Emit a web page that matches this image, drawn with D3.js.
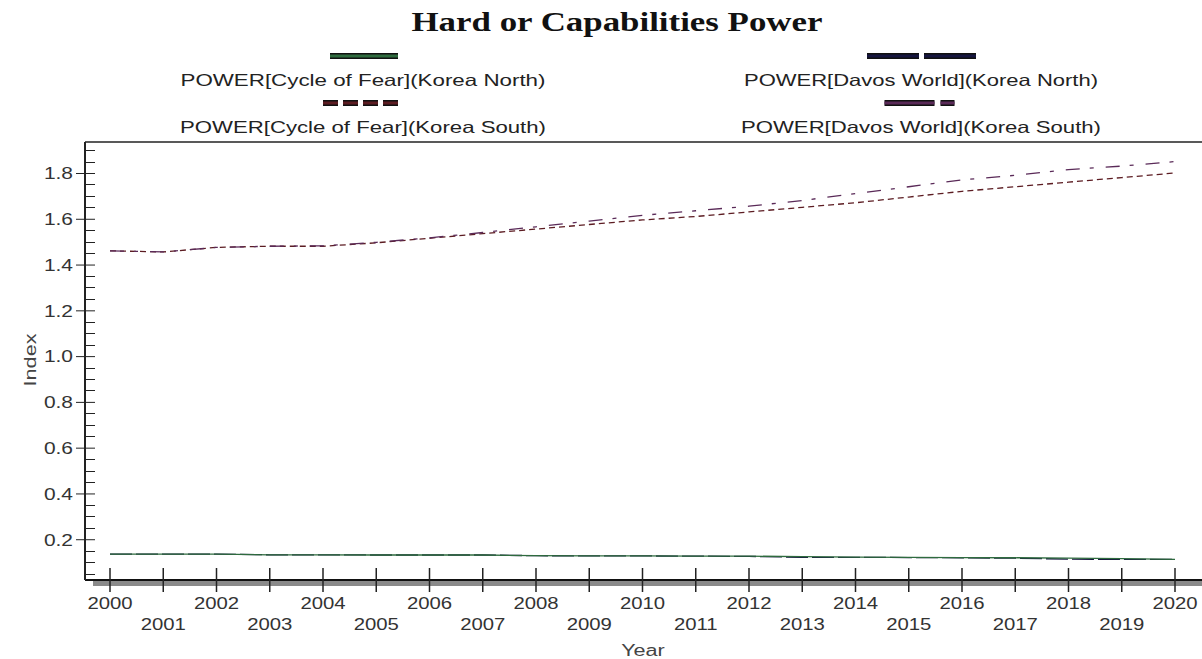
<!DOCTYPE html>
<html>
<head>
<meta charset="utf-8">
<script src="https://cdn.jsdelivr.net/npm/d3@7"></script>
<style>
  body { margin: 0; background: #fff; }
  svg text { font-family: "Liberation Sans", Arial, sans-serif; fill: #222; }
</style>
</head>
<body>
<svg id="chart" width="1202" height="659"></svg>
<script>
const years = d3.range(2000, 2021);

const cofNorth   = [0.135,0.135,0.135,0.132,0.132,0.131,0.131,0.131,0.128,0.127,0.127,0.126,0.126,0.124,0.122,0.121,0.120,0.119,0.117,0.115,0.112];
const davosNorth = [0.135,0.135,0.135,0.132,0.132,0.131,0.131,0.131,0.128,0.127,0.127,0.126,0.125,0.121,0.121,0.120,0.119,0.117,0.113,0.112,0.112];
const cofSouth   = [1.46,1.455,1.475,1.48,1.48,1.495,1.515,1.535,1.555,1.575,1.595,1.61,1.63,1.65,1.67,1.695,1.72,1.74,1.76,1.78,1.80];
const davosSouth = [1.46,1.455,1.475,1.48,1.482,1.497,1.517,1.54,1.565,1.59,1.615,1.635,1.655,1.68,1.71,1.74,1.77,1.79,1.815,1.83,1.85];

const yTicks = [0.2,0.4,0.6,0.8,1.0,1.2,1.4,1.6,1.8];

const series = [
  { name: "POWER[Cycle of Fear](Korea North)", values: cofNorth,   color: "#2e6b3e", dash: null,          lx: 363, ly: 56, tw: 365 },
  { name: "POWER[Davos World](Korea North)",   values: davosNorth, color: "#15153f", dash: "22,4",        lx: 921, ly: 56, tw: 354 },
  { name: "POWER[Cycle of Fear](Korea South)", values: cofSouth,   color: "#5c1c22", dash: "6,4",         lx: 363, ly: 103, tw: 366 },
  { name: "POWER[Davos World](Korea South)",   values: davosSouth, color: "#5a2a58", dash: "14,10,4,12",  lx: 921, ly: 103, tw: 360 }
];
const legendDash = ["68", "52,5", "15,5", "50,6,14,5"];
const legendW = [68, 110, 80, 73];
const legendX = [364, 922, 363, 921];

const svg = d3.select("#chart");
const pLeft = 85, pTop = 142, pBottom = 580, pRight = 1202;
const stretch = 1.27; // reference text is wider than the installed fonts

const x = d3.scaleLinear().domain([2000, 2020]).range([110, 1175]);
const y = d3.scaleLinear().domain([0, 1.8]).range([585, 173]);

function widen(sel, k) {
  sel.attr("lengthAdjust", "spacingAndGlyphs")
     .attr("textLength", function () { return this.getComputedTextLength() * k; });
}

// title
svg.append("text")
  .attr("x", 617).attr("y", 31)
  .attr("text-anchor", "middle")
  .style("font-family", "'Liberation Serif', 'Times New Roman', serif")
  .style("font-weight", "bold")
  .style("font-size", "27px")
  .style("fill", "#111")
  .text("Hard or Capabilities Power")
  .attr("lengthAdjust", "spacingAndGlyphs")
  .attr("textLength", 411);

// legend
series.forEach((s, i) => {
  const ww = legendW[i], cx = legendX[i];
  const g = svg.append("g");
  g.append("line")
    .attr("x1", cx - ww / 2).attr("x2", cx + ww / 2)
    .attr("y1", s.ly).attr("y2", s.ly)
    .attr("stroke", "#111").attr("stroke-width", 6)
    .attr("stroke-dasharray", legendDash[i]);
  g.append("line")
    .attr("x1", cx - ww / 2).attr("x2", cx + ww / 2)
    .attr("y1", s.ly).attr("y2", s.ly)
    .attr("stroke", s.color).attr("stroke-width", 3)
    .attr("stroke-dasharray", legendDash[i]);
  g.append("text")
    .attr("x", s.lx).attr("y", s.ly + 30)
    .attr("text-anchor", "middle")
    .style("font-size", "16.5px")
    .text(s.name)
    .attr("lengthAdjust", "spacingAndGlyphs")
    .attr("textLength", s.tw);
});

// top border
svg.append("line").attr("x1", pLeft).attr("x2", pRight).attr("y1", pTop).attr("y2", pTop)
  .attr("stroke", "#222").attr("stroke-width", 1.5);

// shadow band under x-axis
svg.append("rect").attr("x", 93).attr("y", pBottom).attr("width", pRight - 93).attr("height", 6)
  .attr("fill", "#8a8a8a");
svg.append("line").attr("x1", pLeft).attr("x2", pRight).attr("y1", pBottom).attr("y2", pBottom)
  .attr("stroke", "#111").attr("stroke-width", 2);

// y axis
const yAxis = d3.axisLeft(y)
  .tickValues(yTicks)
  .tickFormat(d3.format(".1f"))
  .tickSize(9)
  .tickPadding(3);
const gy = svg.append("g").attr("transform", `translate(${pLeft},0)`).call(yAxis);
gy.select(".domain").remove();
gy.selectAll(".tick line").attr("x2", 10).attr("x1", -9).attr("stroke", "#222");
gy.selectAll(".tick text")
  .attr("x", -12).attr("dy", "0.35em")
  .style("font-size", "16.5px").style("fill", "#333").style("font-family", "'Liberation Sans', Arial, sans-serif")
  .call(widen, stretch);
// minor ticks
const minor = d3.range(0.05, 1.95, 0.05).filter(v => y(v) > pTop && y(v) < pBottom && !yTicks.some(t => Math.abs(t - v) < 1e-6));
svg.append("g").selectAll("line").data(minor).join("line")
  .attr("x1", pLeft).attr("x2", pLeft + 10)
  .attr("y1", d => Math.round(y(d)) + 0.5).attr("y2", d => Math.round(y(d)) + 0.5)
  .attr("stroke", "#222");
svg.append("line").attr("x1", pLeft).attr("x2", pLeft).attr("y1", pTop).attr("y2", pBottom)
  .attr("stroke", "#222").attr("stroke-width", 2);

// x axis ticks + labels
const gx = svg.append("g");
gx.selectAll("line").data(years).join("line")
  .attr("x1", d => x(d)).attr("x2", d => x(d))
  .attr("y1", pBottom - 12).attr("y2", pBottom + 12)
  .attr("stroke", "#222").attr("stroke-width", 1.5);
gx.selectAll("text").data(years).join("text")
  .attr("x", d => x(d))
  .attr("y", d => d % 2 === 0 ? 609 : 630)
  .attr("text-anchor", "middle")
  .style("font-size", "16px")
  .style("fill", "#333")
  .text(d => d)
  .call(widen, stretch);

// axis titles
svg.append("text").attr("x", 643).attr("y", 656).attr("text-anchor", "middle")
  .style("font-size", "16px").style("fill", "#444").text("Year")
  .call(widen, 1.35);
svg.append("text").attr("transform", "translate(36,360) rotate(-90)").attr("text-anchor", "middle")
  .style("font-size", "16px").style("fill", "#444").text("Index")
  .call(widen, 1.35);

// lines (navy first so the green stays on top, as in the reference)
const line = d3.line().x((d, i) => x(years[i])).y(d => y(d));
const drawOrder = [1, 0, 2, 3];
drawOrder.forEach(i => {
  const s = series[i];
  svg.append("path")
    .datum(s.values)
    .attr("d", line)
    .attr("fill", "none")
    .attr("stroke", s.color)
    .attr("stroke-width", 1.3)
    .attr("stroke-dasharray", s.dash);
});
</script>
</body>
</html>
